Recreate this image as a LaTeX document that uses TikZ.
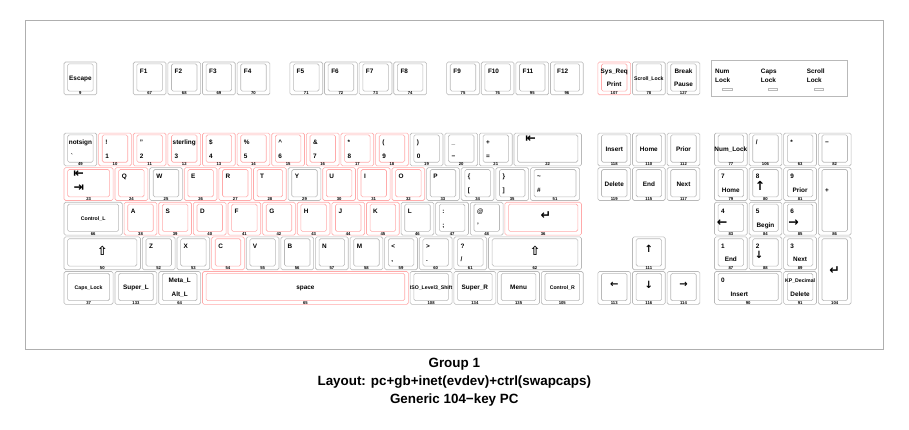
\documentclass[tikz,border=0pt]{standalone}
\usepackage{fontspec}
\setmainfont{Liberation Sans}
\newfontfamily\symf{DejaVu Sans}
\definecolor{kgray}{RGB}{185,185,185}
\definecolor{kpink}{RGB}{255,170,170}
\definecolor{fgray}{RGB}{175,175,175}
\tikzset{
 keyline/.style={line width=0.6pt, rounded corners=1.6pt},
 gk/.style={keyline, draw=kgray},
 pk/.style={keyline, draw=kpink},
 lbl/.style={inner sep=0pt, font=\fontsize{6.4}{7}\selectfont\bfseries},
 slbl/.style={inner sep=0pt, font=\fontsize{5.2}{6}\selectfont\bfseries},
 kcode/.style={inner sep=0pt, font=\fontsize{4.2}{5}\selectfont\bfseries},
 arr/.style={inner sep=0pt, font=\fontsize{10}{11}\selectfont\symf\bfseries},
 barr/.style={inner sep=0pt, font=\fontsize{12.5}{13}\selectfont\symf\bfseries},
 ttl/.style={inner sep=0pt, font=\fontsize{13.4}{16}\selectfont\bfseries},
}
\newcommand\KeyBox[7]{%
  \coordinate (#1) at (#2,#3);
  \coordinate (#1m) at (#2+#4/2,#3);
  \draw[#6] (#2,#3) rectangle ++(#4,#5);
  \draw[#6] (#2+2,#3+1) rectangle (#2+#4-2,#3+#5-2);
  \node[kcode] (#1c) at (#2+#4/2,#3+#5-0.75) {#7};}
\newcommand\LTop[2]{\node[lbl,anchor=base west] (#1t) at ([shift={(3.6,6.2)}]#1) {#2};}
\newcommand\LBot[2]{\node[lbl,anchor=base west] (#1b) at ([shift={(3.6,13.7)}]#1) {#2};}
\newcommand\LCen[3][lbl]{\node[#1,anchor=base] (#2x) at ([shift={(0,10.1)}]#2m) {#3};}
\newcommand\LCtop[3][lbl]{\node[#1,anchor=base] (#2t) at ([shift={(0,6.2)}]#2m) {#3};}
\newcommand\LCbot[3][lbl]{\node[#1,anchor=base] (#2b) at ([shift={(0,13.7)}]#2m) {#3};}
\newcommand\LArr[5][arr]{\node[#1,anchor=center] (#2#3) at ([shift={(#4)}]#2) {#5};}
\begin{document}
\begin{tikzpicture}[x=1.822pt,y=-1.822pt]
\useasboundingbox (-35.126,-34.028) rectangle (463.776,201.976);
\fill[white] (-35.126,-34.028) rectangle (463.776,201.976);
\draw[fgray, line width=0.7pt] (-21.4,-22.67) rectangle (449.5,157.5);
% ---------- Function row
\KeyBox{k9}{0}{0}{18}{18}{gk}{9}\LCen{k9}{Escape}
\KeyBox{k67}{38}{0}{18}{18}{gk}{67}\LTop{k67}{F1}
\KeyBox{k68}{57}{0}{18}{18}{gk}{68}\LTop{k68}{F2}
\KeyBox{k69}{76}{0}{18}{18}{gk}{69}\LTop{k69}{F3}
\KeyBox{k70}{95}{0}{18}{18}{gk}{70}\LTop{k70}{F4}
\KeyBox{k71}{124}{0}{18}{18}{gk}{71}\LTop{k71}{F5}
\KeyBox{k72}{143}{0}{18}{18}{gk}{72}\LTop{k72}{F6}
\KeyBox{k73}{162}{0}{18}{18}{gk}{73}\LTop{k73}{F7}
\KeyBox{k74}{181}{0}{18}{18}{gk}{74}\LTop{k74}{F8}
\KeyBox{k75}{210}{0}{18}{18}{gk}{75}\LTop{k75}{F9}
\KeyBox{k76}{229}{0}{18}{18}{gk}{76}\LTop{k76}{F10}
\KeyBox{k95}{248}{0}{18}{18}{gk}{95}\LTop{k95}{F11}
\KeyBox{k96}{267}{0}{18}{18}{gk}{96}\LTop{k96}{F12}
\KeyBox{k107}{293}{0}{18}{18}{pk}{107}\LCtop{k107}{Sys\_Req}\LCbot{k107}{Print}
\KeyBox{k78}{312}{0}{18}{18}{gk}{78}\LCen[slbl]{k78}{Scroll\_Lock}
\KeyBox{k127}{331}{0}{18}{18}{gk}{127}\LCtop{k127}{Break}\LCbot{k127}{Pause}
% ---------- LED panel
\draw[kgray, line width=0.6pt] (355,-1) coordinate (ledp) rectangle (430,19);
\node[lbl,anchor=base west] (ln1) at (357.3,6.2) {Num};
\node[lbl,anchor=base west] (ln2) at (357.3,11.1) {Lock};
\node[lbl,anchor=base west] (lc1) at (382.4,6.2) {Caps};
\node[lbl,anchor=base west] (lc2) at (382.4,11.1) {Lock};
\node[lbl,anchor=base west] (ls1) at (407.6,6.2) {Scroll};
\node[lbl,anchor=base west] (ls2) at (407.6,11.1) {Lock};
\draw[kgray, line width=0.5pt] (361.5,14.5) rectangle ++(5,1);
\draw[kgray, line width=0.5pt] (386.5,14.5) rectangle ++(5,1);
\draw[kgray, line width=0.5pt] (411.5,14.5) rectangle ++(5,1);
% ---------- Row 1
\KeyBox{k49}{0}{39}{18}{18}{gk}{49}\LCtop{k49}{notsign}\LBot{k49}{\textasciigrave}
\KeyBox{k10}{19}{39}{18}{18}{pk}{10}\LTop{k10}{!}\LBot{k10}{1}
\KeyBox{k11}{38}{39}{18}{18}{pk}{11}\LTop{k11}{"}\LBot{k11}{2}
\KeyBox{k12}{57}{39}{18}{18}{pk}{12}\LCtop{k12}{sterling}\LBot{k12}{3}
\KeyBox{k13}{76}{39}{18}{18}{pk}{13}\LTop{k13}{\$}\LBot{k13}{4}
\KeyBox{k14}{95}{39}{18}{18}{pk}{14}\LTop{k14}{\%}\LBot{k14}{5}
\KeyBox{k15}{114}{39}{18}{18}{pk}{15}\LTop{k15}{\textasciicircum}\LBot{k15}{6}
\KeyBox{k16}{133}{39}{18}{18}{pk}{16}\LTop{k16}{\&}\LBot{k16}{7}
\KeyBox{k17}{152}{39}{18}{18}{pk}{17}\LTop{k17}{*}\LBot{k17}{8}
\KeyBox{k18}{171}{39}{18}{18}{pk}{18}\LTop{k18}{(}\LBot{k18}{9}
\KeyBox{k19}{190}{39}{18}{18}{gk}{19}\LTop{k19}{)}\LBot{k19}{0}
\KeyBox{k20}{209}{39}{18}{18}{gk}{20}\LTop{k20}{\_}\LBot{k20}{−}
\KeyBox{k21}{228}{39}{18}{18}{gk}{21}\LTop{k21}{+}\LBot{k21}{=}
\KeyBox{k22}{247}{39}{37}{18}{gk}{22}\LArr[barr]{k22}{a}{9.1,3.4}{⇤}
% ---------- Row 2
\KeyBox{k23}{0}{58}{27}{18}{pk}{23}\LArr[barr]{k23}{a}{8,3.6}{⇤}\LArr[barr]{k23}{b}{8.2,11.0}{⇥}
\KeyBox{k24}{28}{58}{18}{18}{pk}{24}\LTop{k24}{Q}
\KeyBox{k25}{47}{58}{18}{18}{gk}{25}\LTop{k25}{W}
\KeyBox{k26}{66}{58}{18}{18}{pk}{26}\LTop{k26}{E}
\KeyBox{k27}{85}{58}{18}{18}{pk}{27}\LTop{k27}{R}
\KeyBox{k28}{104}{58}{18}{18}{pk}{28}\LTop{k28}{T}
\KeyBox{k29}{123}{58}{18}{18}{gk}{29}\LTop{k29}{Y}
\KeyBox{k30}{142}{58}{18}{18}{pk}{30}\LTop{k30}{U}
\KeyBox{k31}{161}{58}{18}{18}{pk}{31}\LTop{k31}{I}
\KeyBox{k32}{180}{58}{18}{18}{pk}{32}\LTop{k32}{O}
\KeyBox{k33}{199}{58}{18}{18}{gk}{33}\LTop{k33}{P}
\KeyBox{k34}{218}{58}{18}{18}{gk}{34}\LTop{k34}{\{}\LBot{k34}{[}
\KeyBox{k35}{237}{58}{18}{18}{gk}{35}\LTop{k35}{\}}\LBot{k35}{]}
\KeyBox{k51}{256}{58}{27}{18}{gk}{51}\LTop{k51}{\textasciitilde}\LBot{k51}{\#}
% ---------- Row 3
\KeyBox{k66}{0}{77}{32}{18}{gk}{66}\LCen[slbl]{k66}{Control\_L}
\KeyBox{k38}{33}{77}{18}{18}{pk}{38}\LTop{k38}{A}
\KeyBox{k39}{52}{77}{18}{18}{pk}{39}\LTop{k39}{S}
\KeyBox{k40}{71}{77}{18}{18}{pk}{40}\LTop{k40}{D}
\KeyBox{k41}{90}{77}{18}{18}{pk}{41}\LTop{k41}{F}
\KeyBox{k42}{109}{77}{18}{18}{pk}{42}\LTop{k42}{G}
\KeyBox{k43}{128}{77}{18}{18}{pk}{43}\LTop{k43}{H}
\KeyBox{k44}{147}{77}{18}{18}{pk}{44}\LTop{k44}{J}
\KeyBox{k45}{166}{77}{18}{18}{pk}{45}\LTop{k45}{K}
\KeyBox{k46}{185}{77}{18}{18}{gk}{46}\LTop{k46}{L}
\KeyBox{k47}{204}{77}{18}{18}{gk}{47}\LTop{k47}{:}\LBot{k47}{;}
\KeyBox{k48}{223}{77}{18}{18}{gk}{48}\LTop{k48}{@}\LBot{k48}{'}
\KeyBox{k36}{242}{77}{42}{18}{pk}{36}\LArr[barr]{k36}{a}{22.5,7.1}{↵}
% ---------- Row 4
\KeyBox{k50}{0}{96}{42}{18}{gk}{50}\LArr[barr]{k50}{a}{21,7.7}{⇧}
\KeyBox{k52}{43}{96}{18}{18}{gk}{52}\LTop{k52}{Z}
\KeyBox{k53}{62}{96}{18}{18}{gk}{53}\LTop{k53}{X}
\KeyBox{k54}{81}{96}{18}{18}{pk}{54}\LTop{k54}{C}
\KeyBox{k55}{100}{96}{18}{18}{gk}{55}\LTop{k55}{V}
\KeyBox{k56}{119}{96}{18}{18}{gk}{56}\LTop{k56}{B}
\KeyBox{k57}{138}{96}{18}{18}{gk}{57}\LTop{k57}{N}
\KeyBox{k58}{157}{96}{18}{18}{gk}{58}\LTop{k58}{M}
\KeyBox{k59}{176}{96}{18}{18}{gk}{59}\LTop{k59}{<}\LBot{k59}{,}
\KeyBox{k60}{195}{96}{18}{18}{gk}{60}\LTop{k60}{>}\LBot{k60}{.}
\KeyBox{k61}{214}{96}{18}{18}{gk}{61}\LTop{k61}{?}\LBot{k61}{/}
\KeyBox{k62}{233}{96}{51}{18}{gk}{62}\LArr[barr]{k62}{a}{25.5,7.7}{⇧}
% ---------- Row 5
\KeyBox{k37}{0}{115}{27}{18}{gk}{37}\LCen[slbl]{k37}{Caps\_Lock}
\KeyBox{k133}{28}{115}{23}{18}{gk}{133}\LCen{k133}{Super\_L}
\KeyBox{k64}{52}{115}{23}{18}{gk}{64}\LCtop{k64}{Meta\_L}\LCbot{k64}{Alt\_L}
\KeyBox{k65}{76}{115}{113}{18}{pk}{65}\LCen{k65}{space}
\KeyBox{k108}{190}{115}{23}{18}{gk}{108}\LCen[slbl]{k108}{ISO\_Level3\_Shift}
\KeyBox{k134}{214}{115}{23}{18}{gk}{134}\LCen{k134}{Super\_R}
\KeyBox{k135}{238}{115}{23}{18}{gk}{135}\LCen{k135}{Menu}
\KeyBox{k105}{262}{115}{23}{18}{gk}{105}\LCen[slbl]{k105}{Control\_R}
% ---------- Editing
\KeyBox{k118}{293}{39}{18}{18}{gk}{118}\LCen{k118}{Insert}
\KeyBox{k110}{312}{39}{18}{18}{gk}{110}\LCen{k110}{Home}
\KeyBox{k112}{331}{39}{18}{18}{gk}{112}\LCen{k112}{Prior}
\KeyBox{k119}{293}{58}{18}{18}{gk}{119}\LCen{k119}{Delete}
\KeyBox{k115}{312}{58}{18}{18}{gk}{115}\LCen{k115}{End}
\KeyBox{k117}{331}{58}{18}{18}{gk}{117}\LCen{k117}{Next}
\KeyBox{k111}{312}{96}{18}{18}{gk}{111}\LArr{k111}{a}{9,6.4}{↑}
\KeyBox{k113}{293}{115}{18}{18}{gk}{113}\LArr{k113}{a}{9,7.5}{←}
\KeyBox{k116}{312}{115}{18}{18}{gk}{116}\LArr{k116}{a}{9,7.5}{↓}
\KeyBox{k114}{331}{115}{18}{18}{gk}{114}\LArr{k114}{a}{9,7.5}{→}
% ---------- Keypad
\KeyBox{k77}{357}{39}{18}{18}{gk}{77}\LCen{k77}{Num\_Lock}
\KeyBox{k106}{376}{39}{18}{18}{gk}{106}\LTop{k106}{/}
\KeyBox{k63}{395}{39}{18}{18}{gk}{63}\LTop{k63}{*}
\KeyBox{k82}{414}{39}{18}{18}{gk}{82}\LTop{k82}{−}
\KeyBox{k79}{357}{58}{18}{18}{gk}{79}\LTop{k79}{7}\LCbot{k79}{Home}
\KeyBox{k80}{376}{58}{18}{18}{gk}{80}\LTop{k80}{8}\LArr[barr]{k80}{a}{6,9.8}{↑}
\KeyBox{k81}{395}{58}{18}{18}{gk}{81}\LTop{k81}{9}\LCbot{k81}{Prior}
\KeyBox{k86}{414}{58}{18}{37}{gk}{86}\LBot{k86}{+}
\KeyBox{k83}{357}{77}{18}{18}{gk}{83}\LTop{k83}{4}\LArr[barr]{k83}{a}{4.2,11.4}{←}
\KeyBox{k84}{376}{77}{18}{18}{gk}{84}\LTop{k84}{5}\LCbot{k84}{Begin}
\KeyBox{k85}{395}{77}{18}{18}{gk}{85}\LTop{k85}{6}\LArr[barr]{k85}{a}{5.4,11.4}{→}
\KeyBox{k87}{357}{96}{18}{18}{gk}{87}\LTop{k87}{1}\LCbot{k87}{End}
\KeyBox{k88}{376}{96}{18}{18}{gk}{88}\LTop{k88}{2}\LArr{k88}{a}{5.5,10.0}{↓}
\KeyBox{k89}{395}{96}{18}{18}{gk}{89}\LTop{k89}{3}\LCbot{k89}{Next}
\KeyBox{k104}{414}{96}{18}{37}{gk}{104}\LArr[barr]{k104}{a}{9,18.3}{↵}
\KeyBox{k90}{357}{115}{37}{18}{gk}{90}\LTop{k90}{0}
\node[lbl,anchor=base west] (k90b) at ([shift={(8.8,13.7)}]k90) {Insert};
\KeyBox{k91}{395}{115}{18}{18}{gk}{91}\LCtop[slbl]{k91}{KP\_Decimal}\LCbot{k91}{Delete}
% ---------- Title
\node[ttl,anchor=base] (t1) at (214.2,167.6) {Group 1};
\node[ttl,anchor=base] (t2) at (214.2,177.5) {Layout: pc+gb+inet(evdev)+ctrl(swapcaps)};
\node[ttl,anchor=base] (t3) at (214.2,187.7) {Generic 104−key PC};
\end{tikzpicture}
\end{document}
